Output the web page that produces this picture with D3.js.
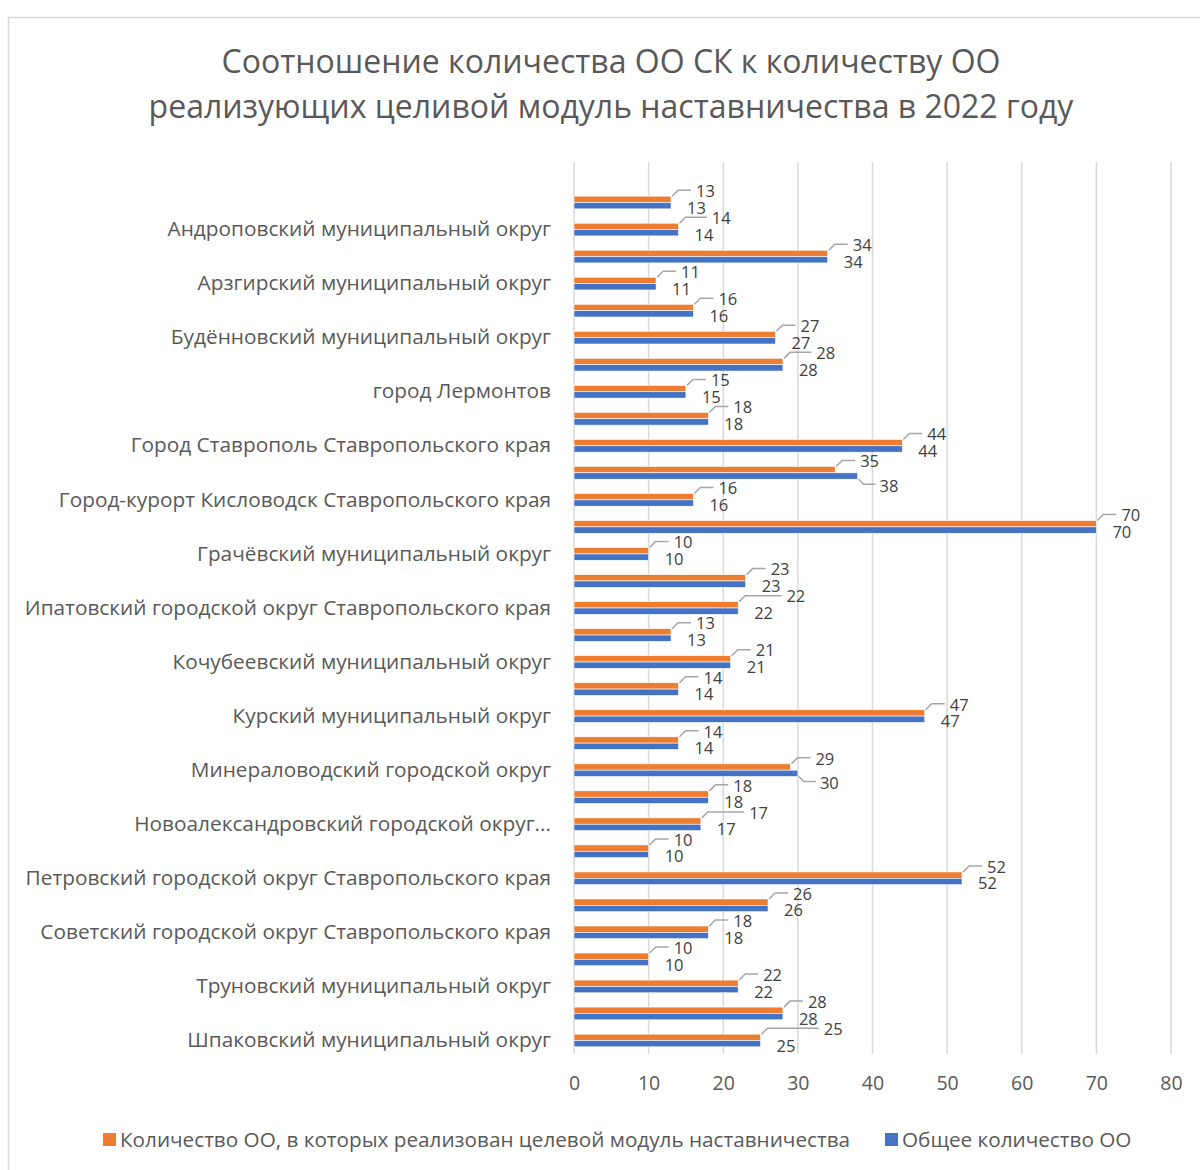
<!DOCTYPE html>
<html>
<head>
<meta charset="utf-8">
<script src="https://cdn.jsdelivr.net/npm/d3@7"></script>
<style>
  body { margin: 0; background: #fff; }
  svg text { font-family: "Open Sans", "Noto Sans", sans-serif; }
</style>
</head>
<body>
<div id="chart"></div>
<script>
// municipalities, top to bottom
const categories = [
	'Александровский муниципальный округ',
	'Андроповский муниципальный округ',
	'Апанасенковский муниципальный округ',
	'Арзгирский муниципальный округ',
	'Благодарненский городской округ Ставропольского края',
	'Будённовский муниципальный округ',
	'Георгиевский городской округ Ставропольского края',
	'город Лермонтов',
	'город Невинномысск',
	'Город Ставрополь Ставропольского края',
	'город-курорт Ессентуки',
	'Город-курорт Кисловодск Ставропольского края',
	'город-курорт Пятигорск',
	'Грачёвский муниципальный округ',
	'Изобильненский городской округ Ставропольского края',
	'Ипатовский городской округ Ставропольского края',
	'Кировский городской округ Ставропольского края',
	'Кочубеевский муниципальный округ',
	'Красногвардейский муниципальный округ',
	'Курский муниципальный округ',
	'Левокумский муниципальный округ',
	'Минераловодский городской округ',
	'Нефтекумский городской округ',
	'Новоалександровский городской округ Ставропольского края',
	'Новоселицкий муниципальный округ',
	'Петровский городской округ Ставропольского края',
	'Предгорный муниципальный округ',
	'Советский городской округ Ставропольского края',
	'Степновский муниципальный округ',
	'Труновский муниципальный округ',
	'Туркменский муниципальный округ',
	'Шпаковский муниципальный округ'
]

const implemented = [13, 14, 34, 11, 16, 27, 28, 15, 18, 44, 35, 16, 70, 10, 23, 22,
	13, 21, 14, 47, 14, 29, 18, 17, 10, 52, 26, 18, 10, 22, 28, 25]
const total = [13, 14, 34, 11, 16, 27, 28, 15, 18, 44, 38, 16, 70, 10, 23, 22,
	13, 21, 14, 47, 14, 30, 18, 17, 10, 52, 26, 18, 10, 22, 28, 25]

const xTicks = [0, 10, 20, 30, 40, 50, 60, 70, 80]
const seriesNames = ['Количество ОО, в которых реализован целевой модуль наставничества', 'Общее количество ОО']
const titleLines = ['Соотношение количества ОО СК к количеству ОО', 'реализующих целивой модуль наставничества в 2022 году']

const orange = '#ed7d31'
const blue = '#4472c4'

const width = 1200
const height = 1170
const plot = {left: 574, right: 1171, top: 162, bandTop: 189, bottom: 1054}
const labelSize = 16.5

const svg = d3.select('#chart').append('svg')
	.attr('width', width)
	.attr('height', height)

svg.append('rect')
	.attr('x', 8.5).attr('y', 17.5)
	.attr('width', 1300).attr('height', 1300)
	.attr('fill', '#fff')
	.attr('stroke', '#d9d9d9')
	.attr('stroke-width', 1.5)

svg.append('g').selectAll('text')
	.data(titleLines)
	.enter().append('text')
	.attr('x', 611)
	.attr('y', (d, i) => 73 + i * 45)
	.attr('text-anchor', 'middle')
	.attr('font-size', 32)
	.attr('fill', '#595959')
	.text(d => d)

const x = d3.scaleLinear()
	.domain([0, 80])
	.range([plot.left, plot.right])

const y = d3.scaleBand()
	.domain(categories)
	.range([plot.bandTop, plot.bottom])

const barH = y.bandwidth() * 0.235

// gridlines
svg.append('g').selectAll('line')
	.data(xTicks)
	.enter().append('line')
	.attr('x1', d => x(d)).attr('x2', d => x(d))
	.attr('y1', plot.top).attr('y2', plot.bottom)
	.attr('stroke', '#d9d9d9')
	.attr('stroke-width', 1.5)

// x axis labels
const xAxis = g => g
	.attr('transform', `translate(0,${ plot.bottom + 22 })`)
	.call(d3.axisBottom(x).tickValues(xTicks).tickSize(0).tickPadding(0))
	.call(g => g.select('.domain').remove())
	.selectAll('text')
	.attr('font-size', 19.5)
	.attr('fill', '#595959')
	.attr('font-family', '"Open Sans", sans-serif')

svg.append('g').call(xAxis)

// category labels, excel shows every other one
const yAxis = g => g
	.attr('class', 'yaxis')
	.attr('transform', `translate(${ plot.left - 23 },0)`)
	.call(d3.axisLeft(y).tickValues(categories.filter((d, i) => i % 2 === 1)).tickSize(0).tickPadding(0))
	.call(g => g.select('.domain').remove())
	.selectAll('text')
	.attr('font-size', 20.8)
	.attr('fill', '#595959')
	.attr('font-family', '"Open Sans", sans-serif')

svg.append('g').call(yAxis)

// shorten labels that do not fit
svg.selectAll('.yaxis .tick text').each(function() {
	const t = d3.select(this)
	let words = t.text().split(' ')
	while (this.getComputedTextLength() > plot.left - 23 - 14 && words.length > 1) {
		words = words.slice(0, -1)
		t.text(words.join(' ') + '...')
	}
})

const rows = categories.map((c, i) => ({c, a: implemented[ i ], b: total[ i ]}))

// orange label start; pushed right when it would hit the blue label of the row above
const digitW = labelSize * 0.57
rows.forEach((d, i) => {
	d.bx = x(d.b) + (d.a !== d.b ? 22 : 16)
	d.ax = x(d.a) + 25
	const prev = rows[ i - 1 ]
	if (prev) {
		const prevEnd = prev.bx + String(prev.b).length * digitW
		if (d.ax < prevEnd + 4 && d.ax + String(d.a).length * digitW > prev.bx - 4) {
			d.ax = prevEnd + 6
		}
	}
})

const row = svg.append('g').selectAll('g')
	.data(rows)
	.enter().append('g')
	.attr('transform', d => `translate(0,${ y(d.c) + y.bandwidth() / 2 })`)

row.append('rect')
	.attr('x', x(0))
	.attr('y', -barH)
	.attr('width', d => x(d.a) - x(0))
	.attr('height', barH)
	.attr('fill', orange)
	.attr('stroke', '#fff').attr('stroke-width', 0.6)

row.append('rect')
	.attr('x', x(0))
	.attr('y', 0)
	.attr('width', d => x(d.b) - x(0))
	.attr('height', barH)
	.attr('fill', blue)
	.attr('stroke', '#fff').attr('stroke-width', 0.6)

// leader lines
row.append('polyline')
	.attr('points', d => {
		const e = x(d.a)
		return [ [ e + 1, -barH ], [ e + 7, -barH - 6 ], [ d.ax - 5, -barH - 6 ] ].join(' ')
	})
	.attr('fill', 'none')
	.attr('stroke', '#a6a6a6')
	.attr('stroke-width', 1.5)

row.filter(d => d.a !== d.b).append('polyline')
	.attr('points', d => {
		const e = x(d.b)
		return [ [ e + 1, barH ], [ e + 6, barH + 5 ], [ d.bx - 4, barH + 5 ] ].join(' ')
	})
	.attr('fill', 'none')
	.attr('stroke', '#a6a6a6')
	.attr('stroke-width', 1.5)

row.append('text')
	.attr('x', d => d.ax)
	.attr('y', -barH - 5)
	.attr('dy', '0.35em')
	.attr('font-size', labelSize)
	.attr('fill', '#404040')
	.text(d => d.a)

row.append('text')
	.attr('x', d => d.bx)
	.attr('y', d => d.a !== d.b ? barH + 7 : barH - 1)
	.attr('dy', '0.35em')
	.attr('font-size', labelSize)
	.attr('fill', '#404040')
	.text(d => d.b)

// legend
const legend = svg.append('g')
	.attr('transform', `translate(0,1140)`)

const leg = legend.selectAll('g')
	.data(seriesNames)
	.enter().append('g')
	.attr('transform', (d, i) => `translate(${ i === 0 ? 103 : 885 },0)`)

leg.append('rect')
	.attr('x', 0).attr('y', -7)
	.attr('width', 13).attr('height', 13)
	.attr('fill', (d, i) => i === 0 ? orange : blue)

leg.append('text')
	.attr('x', 17)
	.attr('dy', '0.35em')
	.attr('font-size', 20.7)
	.attr('fill', '#595959')
	.text(d => d)
</script>
</body>
</html>
